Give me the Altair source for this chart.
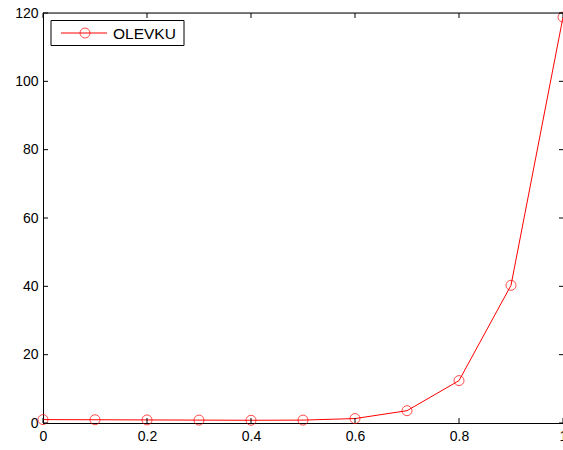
import altair as alt
import pandas as pd

x_vals = [0.0, 0.1, 0.2, 0.3, 0.4, 0.5, 0.6, 0.7, 0.8, 0.9, 1.0]
y_vals = [1.0, 0.95, 0.9, 0.85, 0.8, 0.85, 1.3, 3.6, 12.4, 40.3, 118.8]
x_ticks = [0.0, 0.2, 0.4, 0.6, 0.8, 1.0]
y_ticks = [0, 20, 40, 60, 80, 100, 120]
series_name = "OLEVKU"

W, H = 520, 410
FONT = "Liberation Sans"
RED = "#ff0000"

df = pd.DataFrame({"x": x_vals, "y": y_vals})
dfx = pd.DataFrame({"t": x_ticks})
dfy = pd.DataFrame({"t": y_ticks})

xs = alt.Scale(domain=[0, 1], nice=False)
ys = alt.Scale(domain=[0, 120], nice=False)

xaxis = alt.Axis(values=x_ticks, format="~g", ticks=False, grid=False, labelFont=FONT,
                 labelFontSize=14, labelColor="black", domainColor="black", labelPadding=6,
                 title=None, labelFlush=False, labelOverlap=False)
yaxis = alt.Axis(values=y_ticks, ticks=False, grid=False, labelFont=FONT, labelFontSize=14,
                 labelColor="black", domainColor="black", labelPadding=5, title=None)

line = alt.Chart(df).mark_line(color=RED, strokeWidth=1, clip=False).encode(
    x=alt.X("x:Q", scale=xs, axis=xaxis),
    y=alt.Y("y:Q", scale=ys, axis=yaxis),
)
pts = alt.Chart(df).mark_point(shape="circle", filled=False, color=RED, size=100,
                               strokeWidth=1, clip=False).encode(
    x=alt.X("x:Q", scale=xs), y=alt.Y("y:Q", scale=ys))

# inward ticks
xt_bottom = alt.Chart(dfx).mark_rule(color="black").encode(
    x=alt.X("t:Q", scale=xs), y=alt.value(H), y2=alt.value(H - 5))
xt_top = alt.Chart(dfx).mark_rule(color="black").encode(
    x=alt.X("t:Q", scale=xs), y=alt.value(0), y2=alt.value(5))
yt_left = alt.Chart(dfy).mark_rule(color="black").encode(
    y=alt.Y("t:Q", scale=ys), x=alt.value(0), x2=alt.value(5))
yt_right = alt.Chart(dfy).mark_rule(color="black").encode(
    y=alt.Y("t:Q", scale=ys), x=alt.value(W + 1), x2=alt.value(W - 4))

top_border = alt.Chart(dfx.head(1)).mark_rule(color="black").encode(
    x=alt.value(0), x2=alt.value(W + 1), y=alt.value(0))
right_border = alt.Chart(dfx.head(1)).mark_rule(color="black").encode(
    x=alt.value(W + 1), y=alt.value(0), y2=alt.value(H))

# legend
leg = pd.DataFrame({"name": [series_name]})
leg_box = alt.Chart(leg).mark_rect(fill="white", stroke="black", strokeWidth=1).encode(
    x=alt.value(8), x2=alt.value(141), y=alt.value(7.5), y2=alt.value(32.5))
leg_line = alt.Chart(leg).mark_rule(color=RED, strokeWidth=1).encode(
    x=alt.value(18), x2=alt.value(64), y=alt.value(20))
leg_pt = alt.Chart(leg).mark_point(shape="circle", filled=False, color=RED, size=100,
                                   strokeWidth=1).encode(x=alt.value(42), y=alt.value(20))
leg_text = alt.Chart(leg).mark_text(align="left", baseline="middle", font=FONT, fontSize=15.5,
                                    color="black").encode(
    x=alt.value(70), y=alt.value(20.5), text="name:N")

chart = alt.layer(
    line, pts, xt_bottom, xt_top, yt_left, yt_right, top_border, right_border,
    leg_box, leg_line, leg_pt, leg_text
).properties(
    width=W, height=H,
    autosize=alt.AutoSizeParams(type="none"),
    padding={"left": 43, "top": 13, "right": 0, "bottom": 27},
).configure_view(stroke=None).configure(background="white")

chart.save("out.html", embed_options={"renderer": "svg", "actions": False})
